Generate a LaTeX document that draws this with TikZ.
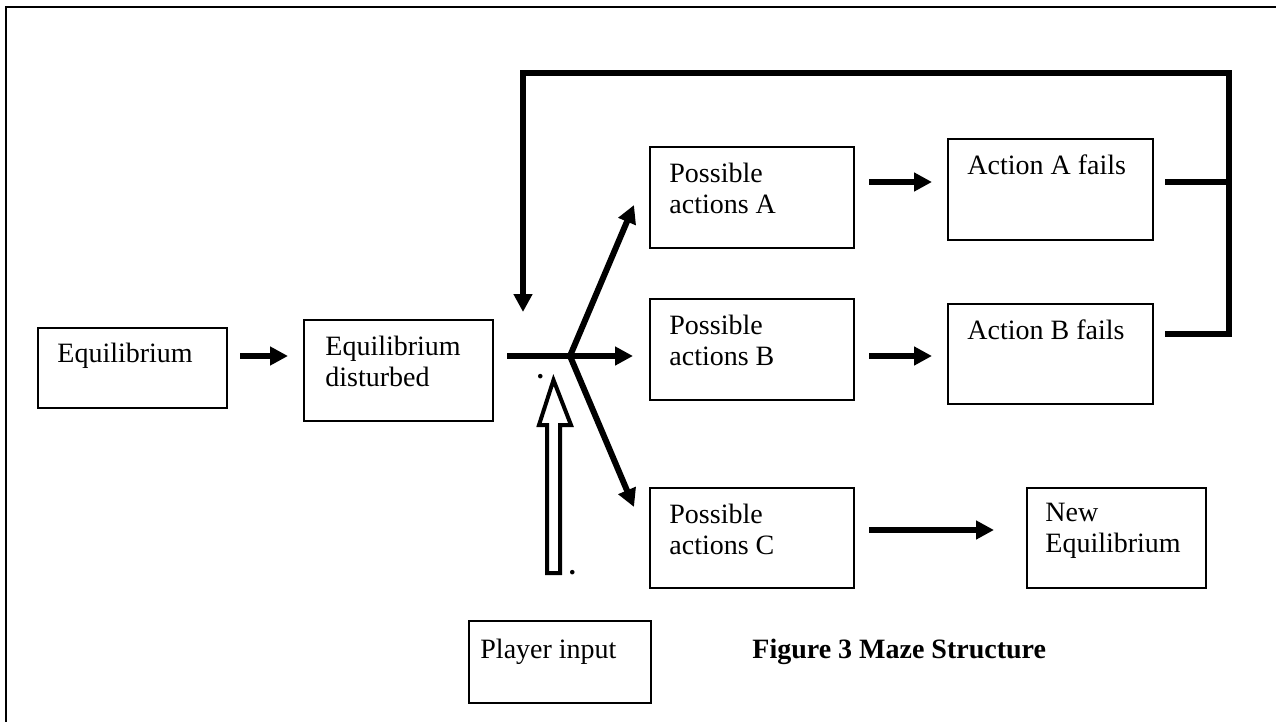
\documentclass[tikz,border=0pt]{standalone}
\usepackage{fontspec}
\setmainfont{Liberation Serif}
\usetikzlibrary{arrows.meta,calc}
\begin{document}
\begin{tikzpicture}[x=0.5pt,y=-0.5pt,
  box/.style={draw,line width=1pt,anchor=north west,inner sep=0pt},
  lbl/.style={anchor=north west,inner sep=0pt,align=left,font=\fontsize{14}{15.2}\selectfont},
  thk/.style={line width=3pt,line join=miter},
  arr/.style={thk,-{Triangle[length=9pt,width=9pt]}},
  hollow/.style={draw,line width=2pt,line join=miter,fill=white}]
\useasboundingbox (0,0) rectangle (1276,722);
% outer frame (right and bottom edges lie outside the picture)
\draw[line width=1.2pt] (6,722) -- (6,7) -- (1276,7);

% boxes
\node[box,minimum width=94.5pt,minimum height=40pt]   (eq)   at (37,327)  {};
\node[box,minimum width=94.5pt,minimum height=50.5pt] (dist) at (303,319) {};
\node[box,minimum width=102pt,minimum height=50.5pt]  (pa)   at (649,146) {};
\node[box,minimum width=102pt,minimum height=50.5pt]  (pb)   at (649,298) {};
\node[box,minimum width=102pt,minimum height=50pt]    (pc)   at (649,487) {};
\node[box,minimum width=102.5pt,minimum height=50.5pt](af)   at (947,138) {};
\node[box,minimum width=102.5pt,minimum height=50pt]  (bf)   at (947,303) {};
\node[box,minimum width=89.5pt,minimum height=50pt]   (ne)   at (1026,487) {};
\node[box,minimum width=91pt,minimum height=41pt]     (pi)   at (468,620) {};

% texts
\node[lbl] (teq)   at (57,343)   {Equilibrium};
\node[lbl] (tdist) at (325,336)  {Equilibrium\\disturbed};
\node[lbl] (tpa)   at (669,163)  {Possible\\actions A};
\node[lbl] (tpb)   at (669,315)  {Possible\\actions B};
\node[lbl] (tpc)   at (669,504)  {Possible\\actions C};
\node[lbl] (taf)   at (967,154)  {Action A fails};
\node[lbl] (tbf)   at (967,319)  {Action B fails};
\node[lbl] (tne)   at (1045,503) {New\\Equilibrium};
\node[lbl] (tpi)   at (480,639)  {Player input};
\node[lbl,font=\fontsize{14}{15.2}\selectfont\bfseries] (cap) at (752,639) {Figure 3 Maze Structure};
\node[anchor=base west,inner sep=0pt,font=\fontsize{14}{15.2}\selectfont\bfseries] (dot1) at (536.5,378.4) {.};
\node[anchor=base west,inner sep=0pt,font=\fontsize{14}{15.2}\selectfont\bfseries] (dot2) at (568.5,574.4) {.};

% connectors
\coordinate (j) at (570,356);
\draw[arr] ($(eq.north east)+(12,29)$) -- ($(dist.north west)+(-15,37)$);
\draw[thk] ($(dist.north east)+(13,37)$) -- (j);
\draw[arr] (j) -- ($(pa.north west)+(-15,59)$);
\draw[arr] (j) -- ($(pb.north west)+(-16,58)$);
\draw[arr] (j) -- ($(pc.north west)+(-15,20)$);
\draw[arr] ($(pa.north east)+(14,36)$) -- ($(af.north west)+(-15,44)$);
\draw[arr] ($(pb.north east)+(14,58)$) -- ($(bf.north west)+(-15,53)$);
\draw[arr] ($(pc.north east)+(14,43)$) -- ($(ne.north west)+(-32,43)$);

% feedback loop
\coordinate (fa) at ($(af.north east)+(11,44)$);
\coordinate (fb) at ($(bf.north east)+(11,31)$);
\coordinate (rv) at (1229,73);
\coordinate (lv) at (523,73);
\coordinate (ltip) at (523,312);
\draw[thk] (fa) -- (fa -| rv);
\draw[arr] (fb) -- (fb -| rv) -- (rv) -- (lv) -- (ltip);

% hollow arrow (player input)
\draw[hollow] (553.5,380) -- (571,425) -- (560,425) -- (560,573) -- (547,573) -- (547,425) -- (539,425) -- cycle;
\end{tikzpicture}
\end{document}
